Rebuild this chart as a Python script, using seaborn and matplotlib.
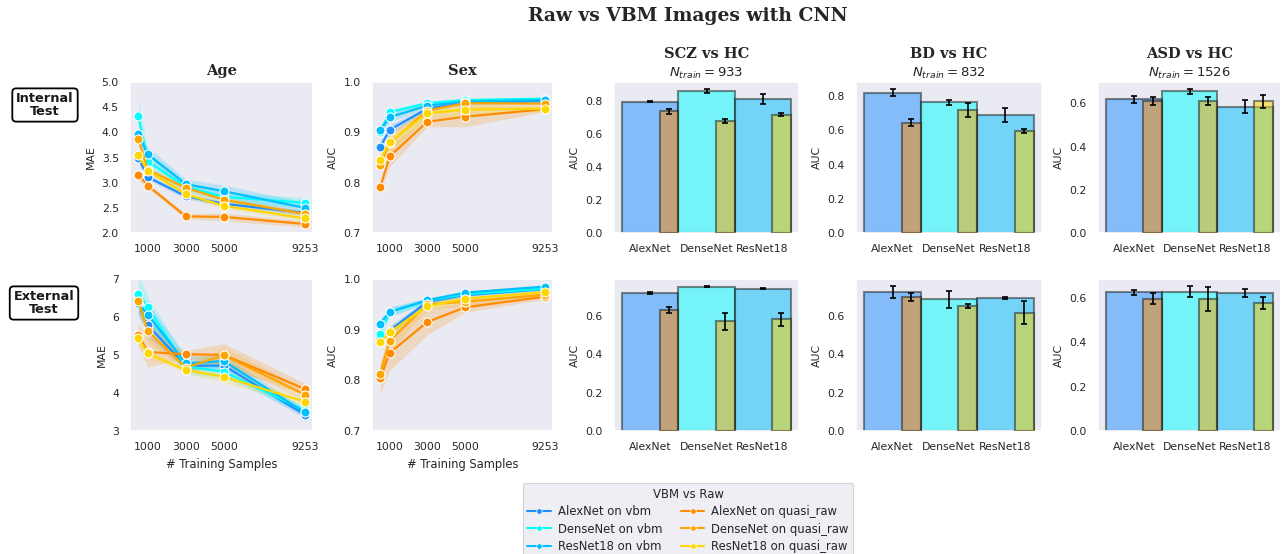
import numpy as np
import pandas as pd
import matplotlib
matplotlib.use("Agg")
import matplotlib.pyplot as plt
from matplotlib.lines import Line2D
import seaborn as sns

sns.set_theme(style="dark")
plt.rcParams["font.family"] = ["DejaVu Sans"]

# ---- training-size curves -------------------------------------------------
n_samples = [500, 1000, 3000, 5000, 9253]
series = ["AlexNet on vbm", "DenseNet on vbm", "ResNet18 on vbm",
          "AlexNet on quasi_raw", "DenseNet on quasi_raw", "ResNet18 on quasi_raw"]
colors = ["dodgerblue", "cyan", "deepskyblue", "darkorange", "orange", "gold"]

# Age MAE, internal test (mean, half-width of band)
age_int = {
    "AlexNet on vbm":        [3.49, 3.11, 2.73, 2.58, 2.40],
    "DenseNet on vbm":       [4.33, 3.42, 2.92, 2.72, 2.60],
    "ResNet18 on vbm":       [3.97, 3.56, 2.97, 2.83, 2.50],
    "AlexNet on quasi_raw":  [3.16, 2.94, 2.33, 2.32, 2.18],
    "DenseNet on quasi_raw": [3.87, 3.25, 2.90, 2.66, 2.38],
    "ResNet18 on quasi_raw": [3.54, 3.24, 2.77, 2.54, 2.29],
}
age_int_err = {
    "AlexNet on vbm":        [0.08, 0.05, 0.05, 0.05, 0.05],
    "DenseNet on vbm":       [0.33, 0.20, 0.10, 0.10, 0.10],
    "ResNet18 on vbm":       [0.10, 0.15, 0.10, 0.12, 0.12],
    "AlexNet on quasi_raw":  [0.10, 0.05, 0.05, 0.08, 0.06],
    "DenseNet on quasi_raw": [0.08, 0.08, 0.06, 0.06, 0.05],
    "ResNet18 on quasi_raw": [0.08, 0.06, 0.06, 0.06, 0.05],
}
# Sex AUC, internal test
sex_int = {
    "AlexNet on vbm":        [0.871, 0.905, 0.947, 0.958, 0.962],
    "DenseNet on vbm":       [0.900, 0.940, 0.958, 0.964, 0.967],
    "ResNet18 on vbm":       [0.905, 0.930, 0.953, 0.961, 0.964],
    "AlexNet on quasi_raw":  [0.791, 0.852, 0.921, 0.931, 0.946],
    "DenseNet on quasi_raw": [0.835, 0.878, 0.943, 0.958, 0.957],
    "ResNet18 on quasi_raw": [0.846, 0.880, 0.938, 0.945, 0.947],
}
sex_int_err = {
    "AlexNet on vbm":        [0.010, 0.010, 0.004, 0.004, 0.003],
    "DenseNet on vbm":       [0.010, 0.006, 0.004, 0.004, 0.003],
    "ResNet18 on vbm":       [0.010, 0.010, 0.004, 0.004, 0.003],
    "AlexNet on quasi_raw":  [0.010, 0.020, 0.010, 0.020, 0.005],
    "DenseNet on quasi_raw": [0.015, 0.020, 0.010, 0.010, 0.005],
    "ResNet18 on quasi_raw": [0.015, 0.015, 0.010, 0.012, 0.005],
}
# Age MAE, external test
age_ext = {
    "AlexNet on vbm":        [6.33, 5.78, 4.72, 4.72, 3.43],
    "DenseNet on vbm":       [6.61, 6.25, 4.70, 4.56, 3.54],
    "ResNet18 on vbm":       [6.37, 6.06, 4.78, 4.84, 3.49],
    "AlexNet on quasi_raw":  [5.53, 5.08, 5.02, 5.00, 4.11],
    "DenseNet on quasi_raw": [6.42, 5.63, 4.67, 4.99, 3.96],
    "ResNet18 on quasi_raw": [5.44, 5.04, 4.60, 4.43, 3.77],
}
age_ext_err = {
    "AlexNet on vbm":        [0.30, 0.30, 0.10, 0.15, 0.10],
    "DenseNet on vbm":       [0.50, 0.30, 0.20, 0.15, 0.10],
    "ResNet18 on vbm":       [0.30, 0.30, 0.20, 0.15, 0.10],
    "AlexNet on quasi_raw":  [0.30, 0.40, 0.10, 0.30, 0.15],
    "DenseNet on quasi_raw": [0.30, 0.30, 0.10, 0.20, 0.15],
    "ResNet18 on quasi_raw": [0.20, 0.10, 0.08, 0.15, 0.10],
}
# Sex AUC, external test
sex_ext = {
    "AlexNet on vbm":        [0.884, 0.898, 0.955, 0.968, 0.980],
    "DenseNet on vbm":       [0.891, 0.935, 0.957, 0.970, 0.981],
    "ResNet18 on vbm":       [0.912, 0.935, 0.958, 0.973, 0.985],
    "AlexNet on quasi_raw":  [0.804, 0.854, 0.915, 0.944, 0.965],
    "DenseNet on quasi_raw": [0.813, 0.878, 0.950, 0.955, 0.969],
    "ResNet18 on quasi_raw": [0.876, 0.895, 0.946, 0.961, 0.974],
}
sex_ext_err = {
    "AlexNet on vbm":        [0.010, 0.010, 0.005, 0.003, 0.003],
    "DenseNet on vbm":       [0.010, 0.008, 0.005, 0.003, 0.003],
    "ResNet18 on vbm":       [0.010, 0.010, 0.005, 0.003, 0.003],
    "AlexNet on quasi_raw":  [0.030, 0.035, 0.025, 0.010, 0.005],
    "DenseNet on quasi_raw": [0.020, 0.020, 0.010, 0.008, 0.005],
    "ResNet18 on quasi_raw": [0.010, 0.010, 0.008, 0.006, 0.004],
}

# ---- diagnosis classification bars ---------------------------------------
models = ["AlexNet", "DenseNet", "ResNet18"]
vbm_colors = ["dodgerblue", "cyan", "deepskyblue"]
raw_colors = ["darkorange", "orange", "gold"]
tasks = ["SCZ vs HC", "BD vs HC", "ASD vs HC"]
n_train = [933, 832, 1526]

scz_int_vbm, scz_int_vbm_err = [0.794, 0.857, 0.812], [0.005, 0.012, 0.030]
scz_int_raw, scz_int_raw_err = [0.735, 0.676, 0.715], [0.015, 0.012, 0.008]
bd_int_vbm, bd_int_vbm_err = [0.821, 0.765, 0.689], [0.020, 0.015, 0.040]
bd_int_raw, bd_int_raw_err = [0.644, 0.718, 0.597], [0.020, 0.040, 0.010]
asd_int_vbm, asd_int_vbm_err = [0.619, 0.656, 0.584], [0.015, 0.010, 0.030]
asd_int_raw, asd_int_raw_err = [0.611, 0.611, 0.611], [0.020, 0.020, 0.030]

scz_ext_vbm, scz_ext_vbm_err = [0.719, 0.753, 0.743], [0.006, 0.002, 0.002]
scz_ext_raw, scz_ext_raw_err = [0.630, 0.572, 0.582], [0.015, 0.045, 0.035]
bd_ext_vbm, bd_ext_vbm_err = [0.725, 0.687, 0.694], [0.030, 0.045, 0.004]
bd_ext_raw, bd_ext_raw_err = [0.699, 0.650, 0.617], [0.020, 0.010, 0.060]
asd_ext_vbm, asd_ext_vbm_err = [0.624, 0.627, 0.620], [0.010, 0.025, 0.018]
asd_ext_raw, asd_ext_raw_err = [0.596, 0.594, 0.576], [0.025, 0.055, 0.028]

W, H = 1284, 554
fig = plt.figure(figsize=(W / 100, H / 100), dpi=100)

col_px = [(130, 313), (372, 553), (614, 799), (856, 1042), (1098, 1281)]
row_px = [(82, 233), (279, 431)]


def make_ax(col, row):
    x0, x1 = col_px[col]
    y0, y1 = row_px[row]
    return fig.add_axes([x0 / W, 1 - y1 / H, (x1 - x0) / W, (y1 - y0) / H])


TICK = 7.8
title_font = dict(family="DejaVu Serif", weight="bold", size=10.5, color=".15")
EDGE = (0.1, 0.1, 0.1)


def curve_panel(ax, means, errs, ylabel, yticks, ylim, xlabel):
    rows = []
    for s in series:
        for n, v in zip(n_samples, means[s]):
            rows.append({"samples": n, "value": v, "model": s})
    df = pd.DataFrame(rows)
    sns.lineplot(data=df, x="samples", y="value", hue="model", hue_order=series,
                 palette=dict(zip(series, colors)), marker="o", markersize=6.5,
                 markeredgecolor="white", markeredgewidth=0.8, linewidth=1.6,
                 errorbar=None, legend=False, ax=ax)
    for s, c in zip(series, colors):
        m = np.array(means[s])
        e = np.array(errs[s])
        ax.fill_between(n_samples, m - e, m + e, color=c, alpha=0.2, linewidth=0)
    ax.set_xticks([1000, 3000, 5000, 9253])
    ax.set_yticks(yticks)
    ax.set_ylim(*ylim)
    ax.set_ylabel(ylabel, fontsize=TICK)
    ax.set_xlabel(xlabel, fontsize=TICK + 0.5)
    ax.tick_params(labelsize=TICK, pad=2)


def bar_panel(ax, vbm, vbm_err, raw, raw_err):
    df = pd.DataFrame({"model": models, "auc": vbm})
    sns.barplot(data=df, x="model", y="auc", hue="model", palette=vbm_colors,
                saturation=1, width=1.0, alpha=0.5, edgecolor=EDGE, linewidth=1.5,
                errorbar=None, legend=False, ax=ax)
    pos = np.arange(len(models))
    ax.errorbar(pos, vbm, yerr=vbm_err, fmt="none", ecolor="black",
                elinewidth=1.2, capsize=2.5, capthick=1.2, zorder=5)
    ax.bar(pos + 1 / 3, raw, width=1 / 3, color=raw_colors, alpha=0.5,
           edgecolor=EDGE, linewidth=1.5, zorder=3)
    ax.errorbar(pos + 1 / 3, raw, yerr=raw_err, fmt="none", ecolor="black",
                elinewidth=1.2, capsize=2.5, capthick=1.2, zorder=5)
    top = max(max(np.add(vbm, vbm_err)), max(np.add(raw, raw_err)))
    ax.set_ylim(0, top * 1.05)
    ax.set_xlim(-0.65, 2.65)
    ax.yaxis.set_major_locator(matplotlib.ticker.MultipleLocator(0.2))
    ax.set_xlabel("")
    ax.set_ylabel("AUC", fontsize=TICK)
    ax.tick_params(labelsize=TICK, pad=2)


# row 1: internal test
ax = make_ax(0, 0)
curve_panel(ax, age_int, age_int_err, "MAE", np.arange(2.0, 5.01, 0.5), (2.0, 5.0), "")
ax.set_title("Age", fontdict=title_font, pad=5)
ax = make_ax(1, 0)
curve_panel(ax, sex_int, sex_int_err, "AUC", [0.7, 0.8, 0.9, 1.0], (0.7, 1.0), "")
ax.set_title("Sex", fontdict=title_font, pad=5)

internal_bars = [(scz_int_vbm, scz_int_vbm_err, scz_int_raw, scz_int_raw_err),
                 (bd_int_vbm, bd_int_vbm_err, bd_int_raw, bd_int_raw_err),
                 (asd_int_vbm, asd_int_vbm_err, asd_int_raw, asd_int_raw_err)]
external_bars = [(scz_ext_vbm, scz_ext_vbm_err, scz_ext_raw, scz_ext_raw_err),
                 (bd_ext_vbm, bd_ext_vbm_err, bd_ext_raw, bd_ext_raw_err),
                 (asd_ext_vbm, asd_ext_vbm_err, asd_ext_raw, asd_ext_raw_err)]

for k, (task, n) in enumerate(zip(tasks, n_train)):
    ax = make_ax(2 + k, 0)
    bar_panel(ax, *internal_bars[k])
    ax.set_title("$N_{train} = %d$" % n, fontsize=9.5, color=".15", pad=4)
    ax.text(0.5, 1.14, task, transform=ax.transAxes, ha="center", va="bottom",
            fontdict=title_font)

# row 2: external test
ax = make_ax(0, 1)
curve_panel(ax, age_ext, age_ext_err, "MAE", [3, 4, 5, 6, 7], (3, 7), "# Training Samples")
ax = make_ax(1, 1)
curve_panel(ax, sex_ext, sex_ext_err, "AUC", [0.7, 0.8, 0.9, 1.0], (0.7, 1.0), "# Training Samples")
for k in range(3):
    ax = make_ax(2 + k, 1)
    bar_panel(ax, *external_bars[k])

# row labels
box = dict(boxstyle="round,pad=0.3", facecolor="white", edgecolor="black", linewidth=1.3)
fig.text(45 / W, 1 - 105 / H, "Internal\nTest", ha="center", va="center",
         fontsize=9.3, weight="bold", linespacing=0.95, color=".1", bbox=box)
fig.text(44 / W, 1 - 303 / H, "External\nTest", ha="center", va="center",
         fontsize=9.3, weight="bold", linespacing=0.95, color=".1", bbox=box)

fig.suptitle("Raw vs VBM Images with CNN", family="DejaVu Serif", weight="bold",
             fontsize=13.5, color=".15", x=688 / W, y=1 - 16 / H, va="center")

handles = [Line2D([], [], color=c, marker="o", markersize=4, linewidth=1.5,
                  markeredgecolor="white", markeredgewidth=0.5) for c in colors]
leg = fig.legend(handles, series, title="VBM vs Raw", ncol=2, loc="upper center",
                 bbox_to_anchor=(688 / W, 1 - 483 / H), borderaxespad=0,
                 fontsize=8.4, title_fontsize=8.4, frameon=True,
                 facecolor="#eaeaf2", edgecolor="#cccccc", handlelength=2.0,
                 handletextpad=0.6, columnspacing=1.6, borderpad=0.4,
                 labelspacing=0.38)
leg.get_frame().set_linewidth(0.8)

fig.savefig("out.png", dpi=100)
